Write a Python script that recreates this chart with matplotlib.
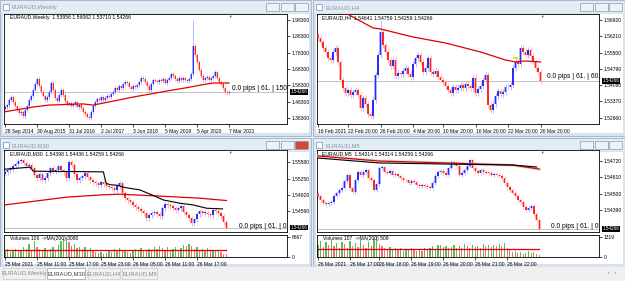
import matplotlib
matplotlib.use('Agg')
import matplotlib.pyplot as plt
from matplotlib.patches import Rectangle

plt.rcParams['font.family'] = ['Liberation Sans', 'DejaVu Sans']

W, H = 625, 281
BID = 1.54266

# ---------------- data ----------------
# weekly closes (one candle ~ 3 weeks on screen)
weekly_close = [1.450, 1.462, 1.493, 1.511, 1.481, 1.456, 1.432, 1.413, 1.420, 1.395,
                1.432, 1.456, 1.493, 1.518, 1.554, 1.591, 1.622, 1.579, 1.542, 1.518,
                1.493, 1.511, 1.542, 1.597, 1.554, 1.505, 1.487, 1.524, 1.554, 1.524,
                1.487, 1.469, 1.475, 1.456, 1.469, 1.481, 1.450, 1.462, 1.444, 1.420,
                1.407, 1.389, 1.383, 1.420, 1.456, 1.481, 1.499, 1.493, 1.511, 1.493,
                1.505, 1.518, 1.511, 1.530, 1.542, 1.567, 1.554, 1.579, 1.567, 1.591,
                1.603, 1.597, 1.573, 1.560, 1.579, 1.573, 1.585, 1.603, 1.628, 1.622,
                1.603, 1.579, 1.554, 1.591, 1.616, 1.609, 1.603, 1.616, 1.609, 1.622,
                1.597, 1.616, 1.628, 1.652, 1.640, 1.622, 1.609, 1.628, 1.616, 1.628,
                1.616, 1.609, 1.622, 1.652, 1.824, 1.769, 1.726, 1.677, 1.640, 1.616,
                1.628, 1.634, 1.616, 1.628, 1.640, 1.665, 1.628, 1.603, 1.591, 1.567,
                1.542, 1.536, 1.54266]
weekly_spike = (94, 1.983)  # march 2020 wick
weekly_ma_x = [0, 14, 22, 39, 44, 52, 64, 81, 93, 98, 104, 112]
weekly_ma = [1.421, 1.450, 1.462, 1.469, 1.462, 1.481, 1.511, 1.548, 1.573, 1.585, 1.597, 1.597]
weekly_ticks = [1.983, 1.883, 1.783, 1.683, 1.583, 1.483, 1.383]
weekly_dates = ['28 Sep 2014', '30 Aug 2015', '31 Jul 2016', '2 Jul 2017',
                '3 Jun 2018', '5 May 2019', '5 Apr 2020', '7 Mar 2021']

h4_close = [1.56136, 1.55962, 1.55700, 1.55526, 1.55265, 1.55178, 1.55526, 1.55700, 1.55091, 1.54306,
            1.53958, 1.53740, 1.53871, 1.53653, 1.53784, 1.53871, 1.53653, 1.53087, 1.53522, 1.53261,
            1.52825, 1.52738, 1.53435, 1.54524, 1.55395, 1.56397, 1.55831, 1.55526, 1.55178, 1.54916,
            1.55178, 1.54481, 1.54611, 1.54568, 1.54698, 1.54829, 1.54568, 1.54437, 1.55003, 1.55265,
            1.55395, 1.55091, 1.54655, 1.54829, 1.55265, 1.54655, 1.54568, 1.54698, 1.54437, 1.54306,
            1.54219, 1.54045, 1.53871, 1.53740, 1.54002, 1.53871, 1.53958, 1.54089, 1.53958, 1.54132,
            1.54045, 1.53958, 1.54394, 1.53740, 1.53915, 1.54045, 1.54306, 1.54524, 1.53217, 1.53000,
            1.53261, 1.53610, 1.53827, 1.53697, 1.53784, 1.54002, 1.53980, 1.54089, 1.54829, 1.55091,
            1.55003, 1.55700, 1.55526, 1.55395, 1.55613, 1.55352, 1.55091, 1.54829, 1.54655, 1.54266]
h4_spike = (25, 1.5692)
h4_ma_x = [8, 22, 25, 38, 51, 65, 75, 79, 83, 89]
h4_ma = [1.5740, 1.56572, 1.56528, 1.56179, 1.55918, 1.55526, 1.55178, 1.55091, 1.55134, 1.55091]
h4_ticks = [1.5692, 1.5621, 1.5550, 1.5479, 1.5408, 1.5337, 1.5266]
h4_dates = ['16 Feb 2021', '22 Feb 20:00', '26 Feb 20:00', '4 Mar 20:00',
            '10 Mar 20:00', '16 Mar 20:00', '22 Mar 20:00', '26 Mar 20:00']

m30_close = [1.55379, 1.55419, 1.55459, 1.55500, 1.55540, 1.55600, 1.55620, 1.55560, 1.55500, 1.55520,
             1.55459, 1.55318, 1.55258, 1.55339, 1.55218, 1.55258, 1.55359, 1.55459, 1.55399, 1.55419,
             1.55500, 1.55419, 1.55379, 1.55258, 1.55580, 1.55520, 1.55339, 1.55218, 1.55258, 1.55298,
             1.55359, 1.55278, 1.55218, 1.55178, 1.55157, 1.55117, 1.55178, 1.55137, 1.55097, 1.55077,
             1.55057, 1.55016, 1.55097, 1.55157, 1.54956, 1.54856, 1.54815, 1.54775, 1.54715, 1.54675,
             1.54634, 1.54594, 1.54554, 1.54453, 1.54514, 1.54554, 1.54574, 1.54534, 1.54494, 1.54654,
             1.54735, 1.54715, 1.54695, 1.54654, 1.54614, 1.54654, 1.54695, 1.54574, 1.54514, 1.54453,
             1.54353, 1.54433, 1.54534, 1.54594, 1.54554, 1.54560, 1.54534, 1.54514, 1.54614, 1.54594,
             1.54554, 1.54494, 1.54373, 1.54266]
m30_ma_x = [0, 11, 23, 36, 43, 51, 61, 73, 83]
m30_ma = [1.54721, 1.54795, 1.54876, 1.54922, 1.54936, 1.54916, 1.54890, 1.54856, 1.54809]
m30_black_x = [0, 9.4, 10.6, 29.4, 36.9, 37.9, 39.4, 41.9, 45, 50.6, 55.6, 59.4, 65.6, 70.6, 75.6, 81.6]
m30_black = [1.55439, 1.55479, 1.55399, 1.5539, 1.55385, 1.55157, 1.55127, 1.55117, 1.5507, 1.55022,
             1.5491, 1.5482, 1.54755, 1.5472, 1.54654, 1.5464]
m30_ticks = [1.5558, 1.5525, 1.5492, 1.5459]
m30_dates = ['25 Mar 2021', '25 Mar 11:00', '25 Mar 17:00', '25 Mar 23:00',
             '26 Mar 05:00', '26 Mar 11:00', '26 Mar 17:00']
m30_vol = [2500, 3200, 2100, 2800, 3600, 2300, 2900, 4100, 3300, 5600,
           3100, 6800, 4200, 3600, 2700, 3900, 3000, 3400, 4300, 2600,
           5200, 7100, 7900, 8667, 6400, 4800, 5500, 3900, 4500, 3600,
           4200, 3100, 3700, 2500, 1900, 1500, 2200, 1300, 1800, 2400,
           2100, 3300, 2700, 3900, 2600, 3100, 2200, 1800, 2800, 3400,
           2600, 3800, 3000, 2300, 3500, 2700, 4300, 3200, 4900, 3700,
           3100, 4100, 2800, 3600, 4400, 3000, 3900, 5100, 4600, 5400,
           4800, 3300, 4200, 2900, 3500, 2600, 3800, 2700, 3100, 2400,
           3000, 2200, 1400, 1100]
m30_vol_ma = [3080, 3080]

m5_close = [1.54485, 1.54458, 1.54438, 1.54432, 1.54438, 1.54445, 1.54485, 1.54505, 1.54525, 1.54539,
            1.54586, 1.54626, 1.54539, 1.54512, 1.54593, 1.54646, 1.54626, 1.54646, 1.54660, 1.54606,
            1.54593, 1.54525, 1.54566, 1.54673, 1.54680, 1.54646, 1.54640, 1.54653, 1.54626, 1.54633,
            1.54619, 1.54606, 1.54593, 1.54590, 1.54572, 1.54586, 1.54579, 1.54559, 1.54552, 1.54559,
            1.54552, 1.54546, 1.54539, 1.54572, 1.54619, 1.54646, 1.54653, 1.54640, 1.54626, 1.54673,
            1.54713, 1.54700, 1.54686, 1.54626, 1.54640, 1.54660, 1.54686, 1.54727, 1.54673, 1.54653,
            1.54640, 1.54660, 1.54646, 1.54643, 1.54640, 1.54626, 1.54633, 1.54626, 1.54622, 1.54606,
            1.54572, 1.54546, 1.54525, 1.54505, 1.54485, 1.54458, 1.54445, 1.54411, 1.54391, 1.54405,
            1.54418, 1.54364, 1.54324, 1.54266]
m5_ma_x = [0, 23, 48, 73, 83]
m5_ma = [1.54754, 1.54720, 1.54707, 1.54693, 1.54666]
m5_black_x = [0, 23, 48, 73, 82]
m5_black = [1.54740, 1.54707, 1.54700, 1.54693, 1.54680]
m5_ticks = [1.5472, 1.5461, 1.5450, 1.5439]
m5_dates = ['26 Mar 2021', '26 Mar 17:00', '26 Mar 18:00', '26 Mar 19:00',
            '26 Mar 20:00', '26 Mar 21:00', '26 Mar 22:00']
m5_vol = [820, 1050, 640, 980, 760, 1120, 690, 900, 580, 1010,
          870, 620, 1080, 730, 940, 660, 1150, 800, 560, 990,
          710, 1180, 1319, 850, 720, 610, 530, 680, 490, 620,
          450, 560, 380, 520, 440, 600, 470, 350, 540, 410,
          580, 460, 620, 700, 540, 760, 820, 650, 730, 590,
          680, 810, 560, 740, 620, 860, 700, 590, 780, 650,
          720, 600, 830, 690, 760, 640, 810, 700, 880, 750,
          920, 560, 430, 300, 380, 250, 320, 200, 280, 350,
          260, 310, 180, 140]
m5_vol_ma = [509, 509]

fig = plt.figure(figsize=(6.25, 2.81), dpi=100)
bg = fig.add_axes([0, 0, 1, 1])
bg.set_xlim(0, W)
bg.set_ylim(H, 0)
bg.axis('off')
bg.add_patch(Rectangle((0, 0), W, H, color='#e6ebf2'))


def px_axes(x0, y0, x1, y1):
    return fig.add_axes([x0 / W, 1 - y1 / H, (x1 - x0) / W, (y1 - y0) / H])


def window(x0, y0, x1, y1, title, active=False):
    bg.add_patch(Rectangle((x0, y0), x1 - x0, y1 - y0, facecolor='#d7e2ef', edgecolor='#9fb2c9', lw=0.6))
    bg.add_patch(Rectangle((x0 + 1, y0 + 1), x1 - x0 - 2, 12, facecolor='#e3ebf5', lw=0))
    bg.add_patch(Rectangle((x0 + 3, y0 + 4), 6, 6, facecolor='#ffffff', edgecolor='#6d8fbf', lw=0.5))
    bg.text(x0 + 12, y0 + 7.5, title, fontsize=4.2, color='#8a95a5', va='center')
    for k, bx in enumerate([x1 - 45, x1 - 30, x1 - 16]):
        col = '#d9443b' if (active and k == 2) else '#eef2f7'
        bg.add_patch(Rectangle((bx, y0 + 3), 13, 8, facecolor=col, edgecolor='#8b9bb0', lw=0.5))
    bg.add_patch(Rectangle((x0 + 3, y0 + 14), x1 - x0 - 5, y1 - y0 - 17, facecolor='white', lw=0))


window(0, 0, 311, 136, 'EURAUD,Weekly')
window(313, 0, 625, 136, 'EURAUD,H4')
window(0, 138, 311, 267, 'EURAUD,M30', active=True)
window(313, 138, 625, 267, 'EURAUD,M5')

# tab strip
bg.add_patch(Rectangle((0, 267), W, 14, color='#f0f0f0'))
tabs = [('EURAUD,Weekly', 3, 45, False), ('EURAUD,M30', 47, 85, True),
        ('EURAUD,H4', 88, 120, False), ('EURAUD,M5', 122, 157, False)]
for name, a, b, act in tabs:
    bg.add_patch(Rectangle((a, 268), b - a, 11, facecolor='white' if act else '#f0f0f0',
                           edgecolor='#9a9a9a' if act else '#c8c8c8', lw=0.5))
    bg.text((a + b) / 2, 274, name, fontsize=4.2, ha='center', va='center',
            color='#404040' if act else '#8a8a8a')
bg.text(612, 273, '‹   ›', fontsize=4, color='#707070', ha='center', va='center')


def setup(ax, xlim, ylim, ticks, tick_labels=None):
    ax.set_xlim(*xlim)
    ax.set_ylim(*ylim)
    for s in ax.spines.values():
        s.set_linewidth(0.6)
        s.set_color('black')
    ax.yaxis.tick_right()
    ax.set_yticks(ticks)
    ax.set_yticklabels(tick_labels if tick_labels else ['%.5f' % t for t in ticks])
    ax.tick_params(axis='both', labelsize=3.6, length=2, width=0.5, pad=1.5, colors='black')


def date_axis(ax, idx, labels):
    ax.set_xticks(idx)
    ax.set_xticklabels(labels)
    for t in ax.get_xticklabels():
        t.set_ha('left')


def candles(ax, closes, first_open, wick, spike=None, body=0.5):
    opens = [first_open] + closes[:-1]
    xs = list(range(len(closes)))
    lows, highs, bottoms, heights, cols, pales = [], [], [], [], [], []
    for o, c in zip(opens, closes):
        up = c >= o
        lo, hi = min(o, c), max(o, c)
        bottoms.append(lo)
        heights.append(max(hi - lo, wick * 0.3))
        lows.append(lo - wick)
        highs.append(hi + wick)
        cols.append('#2a2aff' if up else '#ff2626')
        pales.append('#aab0ff' if up else '#ffb0b0')
    if spike:
        highs[spike[0]] = spike[1]
    ax.vlines(xs, lows, highs, colors=pales, lw=0.6, zorder=2)
    ax.bar(xs, heights, bottom=bottoms, width=body * 1.9, color=pales, lw=0, zorder=2)
    ax.bar(xs, heights, bottom=bottoms, width=body, color=cols, lw=0, zorder=3)


def header(ax, x, y, s):
    bg.text(x, y, '▼', fontsize=2.6, va='center', color='black', zorder=5)
    ax.text(x + 4, y, s, fontsize=3.7, va='center', transform=bg.transData, zorder=6)


def extras(ax, x, y, s, tri_x, tri_y):
    ax.axhline(BID, color='#b8b8b8', lw=0.6, zorder=1)
    ax.text(1.012, BID, '1.54266', transform=ax.get_yaxis_transform(), fontsize=3.3, color='white',
            va='center', bbox=dict(facecolor='black', edgecolor='none', pad=0.25), zorder=7)
    ax.text(x, y, s, fontsize=4.8, va='center', transform=bg.transData, clip_on=True, zorder=8)
    ax.text(tri_x, tri_y, '▼', fontsize=2.6, ha='center', va='top', color='#606060', transform=bg.transData)


# ---------------- weekly ----------------
ax1 = px_axes(4, 14, 287, 124)
setup(ax1, (-0.5, 141), (1.3461, 2.0197), weekly_ticks)
date_axis(ax1, [0, 16, 32, 48, 64, 80, 96, 112], weekly_dates)
candles(ax1, weekly_close, 1.440, 0.010, weekly_spike)
ax1.plot(weekly_ma_x, weekly_ma, color='#e00000', lw=0.9, zorder=4)
header(ax1, 6, 17.5, 'EURAUD,Weekly  1.53956 1.56062 1.53710 1.54266')
extras(ax1, 232, 88, '0.0 pips | 61. | 150', 230, 15)

# ---------------- H4 ----------------
ax2 = px_axes(317, 14, 599, 124)
setup(ax2, (-0.4, 112.4), (1.5239, 1.5718), h4_ticks)
date_axis(ax2, [0, 12, 25, 38, 50, 63, 76, 89], h4_dates)
candles(ax2, h4_close, 1.5625, 0.0012, h4_spike)
ax2.plot(h4_ma_x, h4_ma, color='#e00000', lw=0.9, zorder=4)
ax2.plot([78.3, 79.7], [1.5527, 1.5527], color='#f0e000', lw=1.5, zorder=5)
header(ax2, 318, 17.5, 'EURAUD,H4  1.54641 1.54759 1.54259 1.54266')
extras(ax2, 547, 77, '0.0 pips | 61. | 60.', 542, 15)

# ---------------- M30 ----------------
ax3 = px_axes(4, 150, 287, 232)
setup(ax3, (-0.375, 105.75), (1.54176, 1.55825), m30_ticks)
ax3.set_xticks([])
candles(ax3, m30_close, 1.5535, 0.0005)
ax3.plot(m30_ma_x, m30_ma, color='#e00000', lw=0.9, zorder=4)
ax3.plot(m30_black_x, m30_black, color='black', lw=0.8, zorder=4)
header(ax3, 6, 153.5, 'EURAUD,M30  1.54398 1.54436 1.54259 1.54266')
extras(ax3, 239, 227, '0.0 pips | 61. | 00', 230, 151)

v3 = px_axes(4, 235, 287, 257)
setup(v3, (-0.375, 105.75), (-150, 9600), [8667, 0], ['8667', '0'])
date_axis(v3, [0, 12, 24, 36, 48, 60, 72], m30_dates)
vc = ['#5cb85c' if i == 0 or v >= m30_vol[i - 1] else '#f07070' for i, v in enumerate(m30_vol)]
v3.bar(range(len(m30_vol)), m30_vol, width=0.4, color=vc, lw=0)
v3.plot([0, len(m30_vol) - 1], m30_vol_ma, color='#e00000', lw=0.9)
v3.text(2, 9300, 'Volumes 106  ->MA(200) 3080', fontsize=3.6, va='top')

# ---------------- M5 ----------------
ax4 = px_axes(317, 150, 599, 232)
setup(ax4, (-0.375, 105.4), (1.54244, 1.54794), m5_ticks)
ax4.set_xticks([])
candles(ax4, m5_close, 1.5450, 0.00012)
ax4.plot(m5_ma_x, m5_ma, color='#c8c8c8', lw=2.2, alpha=0.6, zorder=3)
ax4.plot(m5_ma_x, m5_ma, color='#e00000', lw=0.9, zorder=4)
ax4.plot(m5_black_x, m5_black, color='black', lw=0.8, zorder=4)
header(ax4, 318, 153.5, 'EURAUD,M5  1.54314 1.54314 1.54259 1.54266')
extras(ax4, 551, 226, '0.0 pips | 61. | 00', 542, 151)

v4 = px_axes(317, 235, 599, 257)
setup(v4, (-0.375, 105.4), (-25, 1470), [1319, 0], ['1319', '0'])
date_axis(v4, [0, 12, 23, 35, 47, 59, 71], m5_dates)
vc = ['#5cb85c' if i == 0 or v >= m5_vol[i - 1] else '#f07070' for i, v in enumerate(m5_vol)]
v4.bar(range(len(m5_vol)), m5_vol, width=0.4, color=vc, lw=0)
v4.plot([0, len(m5_vol) - 1], m5_vol_ma, color='#e00000', lw=0.9)
v4.text(2, 1420, 'Volumes 107  ->MA(200) 509', fontsize=3.6, va='top')

fig.savefig('out.png', dpi=100)
